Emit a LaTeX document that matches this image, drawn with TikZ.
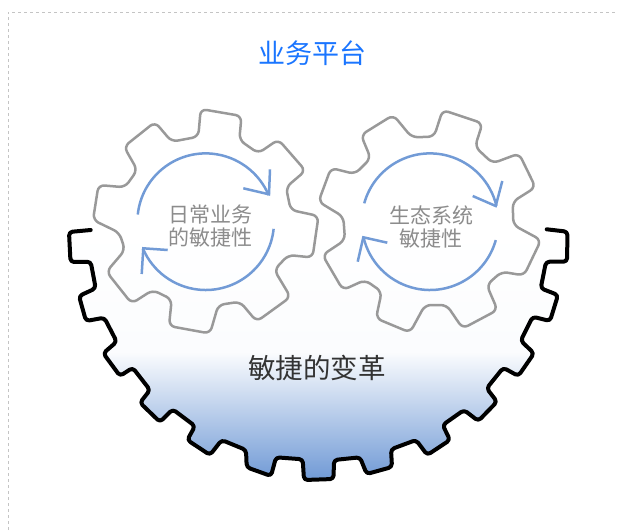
\documentclass[tikz,border=0pt]{standalone}
\usepackage{fontspec}
\setmainfont{Noto Sans CJK SC}
\usepackage{xcolor}
\usetikzlibrary{positioning}
\definecolor{titleblue}{HTML}{1A75FF}
\definecolor{arcblue}{HTML}{729BD6}
\definecolor{geargray}{HTML}{999999}
\definecolor{textgray}{HTML}{8C8C8C}
\definecolor{framegray}{HTML}{C4C4C4}
\pgfdeclareverticalshading{gearfade}{100bp}{
  color(0bp)=(arcblue);
  color(25.4bp)=(arcblue);
  color(50.5bp)=(white!97!arcblue);
  color(75bp)=(white);
  color(100bp)=(white)}

\begin{document}
\begin{tikzpicture}[
  x=1pt, y=-1pt,
  biggear/.style={draw=black, line width=4pt, line cap=round, line join=round, rounded corners=3.5pt, shade, shading=gearfade},
  smallgear/.style={draw=geargray, line width=2.5pt, line join=round, rounded corners=6pt},
  turnarc/.style={draw=arcblue, line width=2.5pt},
  gearlabel/.style={text=textgray, align=center, font=\fontsize{21}{23}\selectfont, inner sep=0pt}
]
\useasboundingbox (0,0) rectangle (617,530);

%Frame
\coordinate (framebl) at (8,530);
\coordinate (frametl) at (8,12);
\coordinate (frametr) at (617,12);
\draw[framegray, dashed, line width=1pt] (framebl) -- (frametl) -- (frametr);

%Big gear
\draw[biggear] (90.7,230) -- (69,232) -- (70.5,262) -- (90.7,261.7) -- (95.7,288.3)
  -- (79,296) -- (86,321) -- (104.3,317.7) -- (116.7,341.7) -- (103.3,353.3)
  -- (120,376) -- (132.7,367.7) -- (150,390) -- (140,402.7) -- (160,422)
  -- (172.7,409.3) -- (195,426) -- (187.3,440) -- (210,455) -- (221.7,440)
  -- (246,450) -- (246.7,467.3) -- (271,476) -- (276,457.3) -- (302.7,459.3)
  -- (304,480) -- (333.5,479) -- (334,460) -- (360,457.3) -- (366.7,474)
  -- (392,467) -- (391,449.3) -- (416,440) -- (427.3,455) -- (450,440)
  -- (442.7,425) -- (464,410) -- (478.3,421) -- (497,401.7) -- (486.7,388.3)
  -- (503.3,367.7) -- (518.3,376) -- (534,353.3) -- (520.7,340.7) -- (532.7,316.7)
  -- (550,321) -- (558,295) -- (540.7,288.3) -- (546,261.7) -- (567,261.7)
  -- (567.5,231.7) -- (546.7,229.3);

%Small gears
\draw[smallgear] (198.3,136.7) -- (200.7,109) -- (241.5,116) -- (239.3,140) -- (258.3,153.3)
  -- (278.3,139.5) -- (305.5,170.7) -- (286,187.3) -- (290.7,210) -- (318.5,216)
  -- (312.5,257.5) -- (288.3,255) -- (274.3,270) -- (290.5,297) -- (256.7,321.5)
  -- (240,301.7) -- (218.3,305) -- (210,333.5) -- (169,326) -- (171.7,299.3)
  -- (152.7,290) -- (131.7,303.5) -- (106.5,271.7) -- (125,250) -- (119.3,232.7)
  -- (93,220) -- (98.5,185) -- (125,187.3) -- (137.3,170) -- (124,146.7)
  -- (155,122) -- (171.7,141.7) -- cycle;
\draw[smallgear] (411.7,137.3) -- (434,136.7) -- (442.7,110) -- (482.5,123.3) -- (475,146.7)
  -- (492.7,163.3) -- (519,153.5) -- (535.5,187.3) -- (512.7,201.7) -- (513.3,225)
  -- (541,240) -- (524,275.5) -- (501.7,271.7) -- (486.7,285) -- (497.5,310)
  -- (462.7,328.5) -- (446.7,305) -- (425,305) -- (410,332.5) -- (376,318.3)
  -- (381.7,291.7) -- (365,280) -- (343,290) -- (322.5,255) -- (345,240)
  -- (343.3,216.7) -- (318.5,201.7) -- (331,168) -- (355,174) -- (370.7,158.3)
  -- (361,135) -- (393.3,115) -- cycle;

%Arcs
\coordinate (leftc) at (205.7,221.7);
\coordinate (rightc) at (430,221.7);
\draw[turnarc] (leftc) ++(174:68.3pt) arc (174:23:68.3pt);
\draw[turnarc] (243.3,188.3) -- (269,194.3) -- (270,169.3);
\draw[turnarc] (leftc) ++(-6:68.3pt) arc (-6:-157:68.3pt);
\draw[turnarc] (167.7,250) -- (143.3,248.3) -- (141.7,274);
\draw[turnarc] (rightc) ++(164.4:68.3pt) arc (164.4:13.4:68.3pt);
\draw[turnarc] (472.7,196) -- (495.7,206) -- (502.3,181);
\draw[turnarc] (rightc) ++(-15.6:68.3pt) arc (-15.6:-166.8:68.3pt);
\draw[turnarc] (387.3,242.7) -- (363.3,237.3) -- (357.7,261.7);

%Labels
\node[text=titleblue, font=\fontsize{27}{27}\selectfont, inner sep=0pt] (platform) at (312.5,53) {业务平台};
\node[gearlabel] (dailylabel) at (210.5,226.5) {日常业务\\的敏捷性};
\node[gearlabel] (ecolabel) at (431,227) {生态系统\\敏捷性};
\node[text=black!80, font=\fontsize{27.5}{27.5}\selectfont, inner sep=0pt] (changelabel) at (317,368) {敏捷的变革};
\end{tikzpicture}
\end{document}
